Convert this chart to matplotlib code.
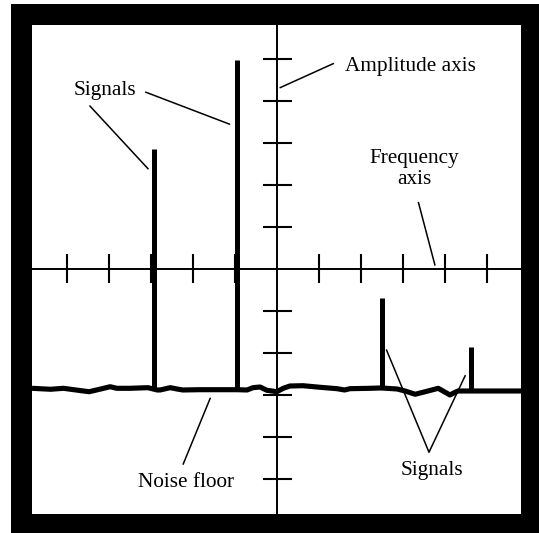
import matplotlib
matplotlib.use("Agg")
import matplotlib.pyplot as plt
from matplotlib.patches import Rectangle

# ---- data (in tick units, origin at axis crossing) ----
tick_positions = [-5, -4, -3, -2, -1, 1, 2, 3, 4, 5]

signal_x = [-2.93, -0.95, 2.50, 4.61]
signal_top = [2.85, 4.97, -0.71, -1.86]
signal_base = [-2.87, -2.88, -2.84, -2.91]

noise_x = [-5.84, -5.40, -5.09, -4.67, -4.48, -4.20, -3.98, -3.82, -3.51, -3.08,
           -2.86, -2.79, -2.55, -2.39, -2.25, -1.84, -0.96, -0.72, -0.58, -0.41,
           -0.25, -0.01, 0.14, 0.30, 0.61, 1.02, 1.42, 1.60, 1.73, 2.21,
           2.47, 2.85, 3.04, 3.28, 3.52, 3.83, 4.11, 4.23, 4.30, 5.80]
noise_y = [-2.848, -2.871, -2.848, -2.905, -2.929, -2.864, -2.810, -2.848, -2.848, -2.833,
           -2.888, -2.888, -2.833, -2.864, -2.888, -2.881, -2.881, -2.888, -2.833, -2.817,
           -2.895, -2.929, -2.848, -2.793, -2.786, -2.824, -2.857, -2.888, -2.857, -2.848,
           -2.840, -2.864, -2.912, -2.990, -2.929, -2.848, -3.007, -2.943, -2.912, -2.912]

labels = ["Signals", "Amplitude axis", "Frequency\naxis", "Noise floor", "Signals"]
label_xy = [(-4.11, 4.23), (1.62, 4.82), (3.26, 2.37), (-2.18, -5.10), (3.67, -4.81)]
label_ha = ["center", "left", "center", "center", "center"]

leader_lines = [
    [(-4.46, 3.87), (-3.08, 2.38)],
    [(-3.13, 4.20), (-1.14, 3.44)],
    [(1.33, 4.88), (0.07, 4.31)],
    [(3.36, 1.57), (3.75, 0.09)],
    [(-2.24, -4.65), (-1.60, -3.09)],
    [(2.60, -1.94), (3.61, -4.37), (4.47, -2.55)],
]

# ---- figure ----
W, H = 539, 533
fig = plt.figure(figsize=(W / 100, H / 100), dpi=100, facecolor="white")

# black frame
fig.add_artist(Rectangle((11 / W, 0), 1 - 11 / W, (H - 4) / H,
                         transform=fig.transFigure, facecolor="black",
                         edgecolor="none", zorder=0))

ax = fig.add_axes([32 / W, 19 / H, 489 / W, 489 / H], zorder=1)
ax.set_facecolor("white")
ax.set_xlim(-5.84, 5.80)
ax.set_ylim(-5.84, 5.80)
for s in ax.spines.values():
    s.set_visible(False)
ax.set_xticks([])
ax.set_yticks([])

# axes lines
ax.axhline(0, color="black", lw=1.4, zorder=2)
ax.axvline(0, color="black", lw=1.4, zorder=2)
tl = 0.345
for t in tick_positions:
    ax.plot([t, t], [-tl, tl], color="black", lw=1.5, solid_capstyle="butt", zorder=2)
    ax.plot([-tl, tl], [t, t], color="black", lw=1.5, solid_capstyle="butt", zorder=2)

# signals
ax.vlines(signal_x, signal_base, signal_top, colors="black", lw=3.6, zorder=3)

# noise floor
ax.plot(noise_x, noise_y, color="black", lw=3.7, solid_joinstyle="round",
        solid_capstyle="butt", zorder=4)

# leader lines
for pts in leader_lines:
    xs = [p[0] for p in pts]
    ys = [p[1] for p in pts]
    ax.plot(xs, ys, color="black", lw=1.1, zorder=5)

# labels
for txt, (x, y), ha in zip(labels, label_xy, label_ha):
    ax.text(x, y, txt, ha=ha, va="center", fontsize=15.3,
            family="Liberation Serif", linespacing=1.2, zorder=6)

fig.savefig("out.png", dpi=100, facecolor="white")
